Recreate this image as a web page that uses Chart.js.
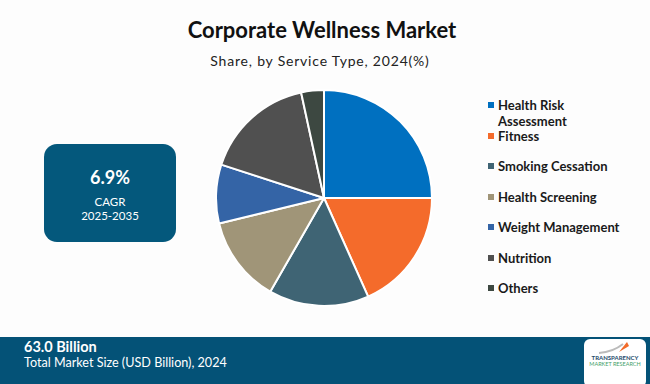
<!DOCTYPE html>
<html>
<head>
<meta charset="utf-8">
<script src="https://cdn.jsdelivr.net/npm/chart.js@4.4.1/dist/chart.umd.min.js"></script>
<style>
  html,body{margin:0;padding:0;}
  body{width:650px;height:384px;position:relative;overflow:hidden;background:#fdfdfd;font-family:Lato,"Open Sans",sans-serif;}
  #title{position:absolute;left:0;width:644px;top:16px;text-align:center;font-weight:700;font-size:22px;color:#111;}
  #subtitle{position:absolute;left:0;width:640px;top:52px;text-align:center;font-size:14px;letter-spacing:0.8px;color:#222;}
  #pieWrap{position:absolute;left:215px;top:89px;width:218px;height:218px;}
  #legend{position:absolute;left:0;top:0;}
  .li{position:absolute;left:488px;width:160px;font-weight:700;font-size:13px;line-height:16px;color:#1a1a1a;}
  .li .sw{position:absolute;left:0;top:5px;width:6px;height:6px;}
  .li .tx{position:absolute;left:10px;width:150px;white-space:nowrap;}
  #cagr{position:absolute;left:44px;top:144px;width:132px;height:98px;background:#04587c;border-radius:13px;color:#fff;text-align:center;}
  #cagr .v{position:absolute;left:0;width:100%;top:22px;font-weight:700;font-size:18px;}
  #cagr .l{position:absolute;left:0;width:100%;font-size:11.5px;line-height:12px;}
  #footer{position:absolute;left:0;top:337px;width:650px;height:47px;background:#045277;color:#fff;}
  #footer .v{position:absolute;left:24px;top:1px;font-weight:700;font-size:14.5px;line-height:17px;}
  #footer .l{position:absolute;left:24px;top:18px;font-size:12.6px;line-height:15px;}
  #logo{position:absolute;left:584px;top:2px;width:62px;height:48px;background:#fff;border-radius:6px;}
  #logo .a{position:absolute;left:0;width:62px;text-align:center;top:15px;font-size:6px;font-weight:700;color:#244a6b;white-space:nowrap;}
  #logo .b{position:absolute;left:0;width:62px;text-align:center;top:22px;font-size:5.5px;color:#46a06a;white-space:nowrap;}
  #logo .c{position:absolute;left:9px;top:1px;width:44px;height:14px;}
</style>
</head>
<body>
<div id="title">Corporate Wellness Market</div>
<div id="subtitle">Share, by Service Type, 2024(%)</div>
<div id="pieWrap"><canvas id="c"></canvas></div>
<div id="legend"></div>
<div id="cagr"><div class="v">6.9%</div><div class="l" style="top:52px">CAGR</div><div class="l" style="top:66px">2025-2035</div></div>
<div id="footer">
  <div class="v">63.0 Billion</div>
  <div class="l">Total Market Size (USD Billion), 2024</div>
  <div id="logo">
    <svg class="c" viewBox="0 0 44 14"><path d="M6 13 Q20 12 30 4" stroke="#bbb" stroke-width="2" fill="none"/><path d="M26 12 L34 2 L36 6 Z" fill="#f26b2a"/></svg>
    <div class="a">TRANSPARENCY</div>
    <div class="b">MARKET RESEARCH</div>
  </div>
</div>
<script>
const categories = ["Health Risk Assessment","Fitness","Smoking Cessation","Health Screening","Weight Management","Nutrition","Others"];
const shares = [25.0, 18.3, 15.0, 12.9, 8.8, 16.6, 3.4];
const colors = ["#0070c0","#f46b2b","#3f6474","#a09578","#3464a6","#505050","#3d4841"];

new Chart(document.getElementById('c'), {
  type: 'pie',
  data: {
    labels: categories,
    datasets: [{ data: shares, backgroundColor: colors, borderColor: '#ffffff', borderWidth: 2 }]
  },
  options: {
    responsive: true,
    maintainAspectRatio: false,
    animation: false,
    layout: { padding: 0 },
    plugins: { legend: { display: false }, tooltip: { enabled: false } }
  }
});

const legend = document.getElementById('legend');
categories.forEach((name, i) => {
  const d = document.createElement('div');
  d.className = 'li';
  d.style.top = (97 + i * 30.5) + 'px';
  const txt = name === "Health Risk Assessment" ? "Health Risk<br>Assessment" : name;
  d.innerHTML = '<span class="sw" style="background:' + colors[i] + '"></span><span class="tx">' + txt + '</span>';
  legend.appendChild(d);
});
</script>
</body>
</html>
